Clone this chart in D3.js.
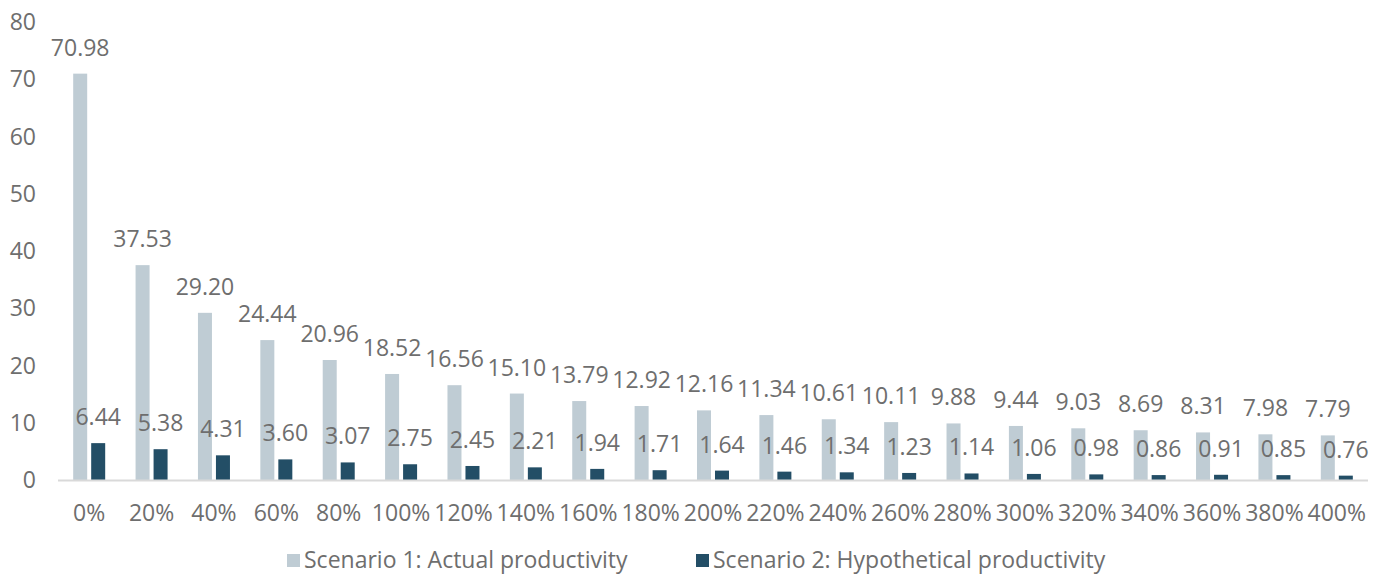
<!DOCTYPE html>
<html><head><meta charset="utf-8">
<script src="https://cdn.jsdelivr.net/npm/d3@7"></script>
<style>body{margin:0;background:#fff;} text{font-family:"Open Sans",sans-serif;}</style>
</head><body>
<svg id="c" width="1386" height="575"></svg>
<script>
const categories = ["0%","20%","40%","60%","80%","100%","120%","140%","160%","180%","200%","220%","240%","260%","280%","300%","320%","340%","360%","380%","400%"];
const series1 = [70.98,37.53,29.20,24.44,20.96,18.52,16.56,15.10,13.79,12.92,12.16,11.34,10.61,10.11,9.88,9.44,9.03,8.69,8.31,7.98,7.79];
const series2 = [6.44,5.38,4.31,3.60,3.07,2.75,2.45,2.21,1.94,1.71,1.64,1.46,1.34,1.23,1.14,1.06,0.98,0.86,0.91,0.85,0.76];
const seriesNames = ["Scenario 1: Actual productivity","Scenario 2: Hypothetical productivity"];
const colors = ["#bfccd4","#234e66"];
const yTicks = [0,10,20,30,40,50,60,70,80];

const svg = d3.select("#c");
const textColor = "#6e6e6e";
const fs = 23;
const x0 = d3.scaleBand().domain(categories).range([58,1368]).padding(0);
const bw = x0.bandwidth();
const x1 = d3.scaleBand().domain([0,1]).range([bw/2-16,bw/2+16]).paddingInner(0.222);
const y = d3.scaleLinear().domain([0,80]).range([480,22]);

// y axis labels
svg.append("g").selectAll("text").data(yTicks).join("text")
  .attr("x",36).attr("y",d=>y(d)).attr("dy","0.35em")
  .attr("text-anchor","end").attr("fill",textColor).attr("font-size",fs).text(d=>d);

const data = [series1, series2];
data.forEach((vals,si)=>{
  const g = svg.append("g");
  g.selectAll("rect").data(vals).join("rect")
    .attr("x",(d,i)=>x0(categories[i])+x1(si))
    .attr("width",x1.bandwidth())
    .attr("y",d=>y(d)).attr("height",d=>y(0)-y(d))
    .attr("fill",colors[si]);
});
// baseline
svg.append("line").attr("x1",58).attr("x2",1368).attr("y1",y(0)+0.5).attr("y2",y(0)+0.5)
  .attr("stroke","#d9d9d9").attr("stroke-width",2);

data.forEach((vals,si)=>{
  svg.append("g").selectAll("text").data(vals).join("text")
    .attr("x",(d,i)=>x0(categories[i])+x1(si)+x1.bandwidth()/2)
    .attr("y",d=>y(d)-18)
    .attr("text-anchor","middle").attr("fill",textColor).attr("font-size",fs)
    .text(d=>d.toFixed(2));
});

// x labels
svg.append("g").selectAll("text").data(categories).join("text")
  .attr("x",d=>x0(d)+bw/2).attr("y",521)
  .attr("text-anchor","middle").attr("fill",textColor).attr("font-size",fs).text(d=>d);

// legend
const legX = [287,696];
seriesNames.forEach((n,i)=>{
  svg.append("rect").attr("x",legX[i]).attr("y",554).attr("width",13).attr("height",13).attr("fill",colors[i]);
  svg.append("text").attr("x",legX[i]+17).attr("y",568).attr("fill",textColor).attr("font-size",fs).text(n);
});
</script>
</body></html>
